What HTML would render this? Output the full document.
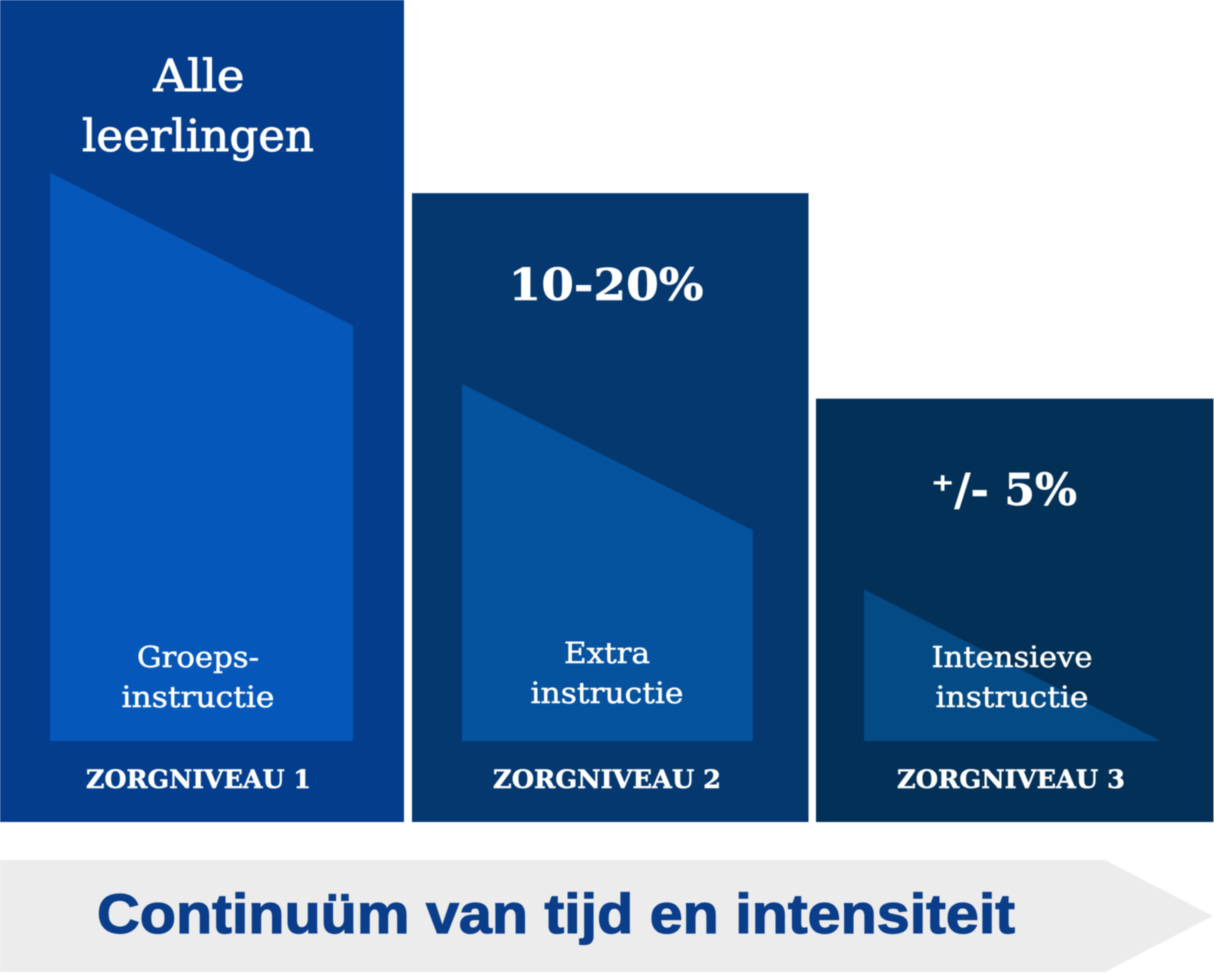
<!DOCTYPE html>
<html lang="nl">
<head>
<meta charset="utf-8">
<title>Zorgniveaus</title>
<style>
html,body{margin:0;padding:0;background:#fff;width:1214px;height:974px;overflow:hidden}
svg{display:block;filter:blur(.5px)}
.s{font-family:"DejaVu Serif","Liberation Serif",serif;fill:#fff;stroke:#fff;stroke-width:.5px}
.t{stroke-width:.9px}
.b{font-family:"Liberation Sans",sans-serif;font-weight:700;fill:#0a3d8a;stroke:#0a3d8a;stroke-width:1.2px}
</style>
</head>
<body>
<svg id="chart" width="1214" height="974" viewBox="0 0 1214 974" xmlns="http://www.w3.org/2000/svg">
  <polygon points="0,860 1105,860 1213,916 1105,972 0,972" fill="#ececec"/>
  <text class="b" x="97" y="933" font-size="56" textLength="918" lengthAdjust="spacingAndGlyphs">Continuüm van tijd en intensiteit</text>
  <g id="bars"></g>
  <g>
    <text class="s t" x="199" y="91" font-size="44" text-anchor="middle" textLength="91" lengthAdjust="spacingAndGlyphs">Alle</text>
    <text class="s t" x="198" y="151" font-size="44" text-anchor="middle" textLength="232" lengthAdjust="spacingAndGlyphs">leerlingen</text>
    <text class="s" x="606" y="300" font-size="44" font-weight="700" text-anchor="middle" textLength="195" lengthAdjust="spacingAndGlyphs">10-20%</text>
    <text class="s" x="1004" y="505" font-size="44" font-weight="700" text-anchor="middle" textLength="146" lengthAdjust="spacingAndGlyphs">⁺/- 5%</text>
    <text class="s" x="198" y="667" font-size="29" text-anchor="middle" textLength="122" lengthAdjust="spacingAndGlyphs">Groeps-</text>
    <text class="s" x="198" y="707" font-size="29" text-anchor="middle" textLength="153" lengthAdjust="spacingAndGlyphs">instructie</text>
    <text class="s" x="607" y="663" font-size="29" text-anchor="middle" textLength="86" lengthAdjust="spacingAndGlyphs">Extra</text>
    <text class="s" x="607" y="703" font-size="29" text-anchor="middle" textLength="153" lengthAdjust="spacingAndGlyphs">instructie</text>
    <text class="s" x="1012" y="667" font-size="29" text-anchor="middle" textLength="161" lengthAdjust="spacingAndGlyphs">Intensieve</text>
    <text class="s" x="1012" y="707" font-size="29" text-anchor="middle" textLength="153" lengthAdjust="spacingAndGlyphs">instructie</text>
    <text class="s" x="198.5" y="788" font-size="25" font-weight="700" text-anchor="middle" textLength="225" lengthAdjust="spacingAndGlyphs">ZORGNIVEAU 1</text>
    <text class="s" x="607" y="788" font-size="25" font-weight="700" text-anchor="middle" textLength="228" lengthAdjust="spacingAndGlyphs">ZORGNIVEAU 2</text>
    <text class="s" x="1011" y="788" font-size="25" font-weight="700" text-anchor="middle" textLength="228" lengthAdjust="spacingAndGlyphs">ZORGNIVEAU 3</text>
  </g>
</svg>
<script>
const levels = ['zorgniveau-1', 'zorgniveau-2', 'zorgniveau-3'];
const columnValues = [100, 76.5, 51.5];
const wedgeStartValues = [79, 53.3, 28.3];
const wedgeEndValues = [60.4, 35.5, 9.8];
const wedgeSpanValues = [100, 96.3, 98.6];

const columnColors = ['#033d8b', '#04386e', '#033056'];
const wedgeColors = ['#0558b9', '#05529f', '#044a85'];
const columnLeft = [0, 412, 816];
const columnWidth = [404, 396.5, 397.5];
const wedgeLeft = [50, 462, 864];
const wedgeFullWidth = [303, 302, 302];
const baseY = 822;
const unit = 8.22;

function yScale(v) { return baseY - v * unit; }
function wedgeRight(i) { return wedgeLeft[i] + wedgeFullWidth[i] * wedgeSpanValues[i] / 100; }

const NS = 'http://www.w3.org/2000/svg';
const bars = document.getElementById('bars');
levels.forEach(function (level, i) {
  const rect = document.createElementNS(NS, 'rect');
  
  
  rect.setAttribute('x', columnLeft[i]);
  rect.setAttribute('y', yScale(columnValues[i]));
  rect.setAttribute('width', columnWidth[i]);
  rect.setAttribute('height', baseY - yScale(columnValues[i]));
  rect.setAttribute('fill', columnColors[i]);
  bars.appendChild(rect);

  const wedge = document.createElementNS(NS, 'polygon');
  
  
  const bottom = 741;
  const l = wedgeLeft[i];
  const r = wedgeRight(i);
  wedge.setAttribute('points', [
    l + ',' + yScale(wedgeStartValues[i]),
    r + ',' + yScale(wedgeEndValues[i]),
    r + ',' + bottom,
    l + ',' + bottom
  ].join(' '));
  wedge.setAttribute('fill', wedgeColors[i]);
  bars.appendChild(wedge);
});
</script>
</body>
</html>
